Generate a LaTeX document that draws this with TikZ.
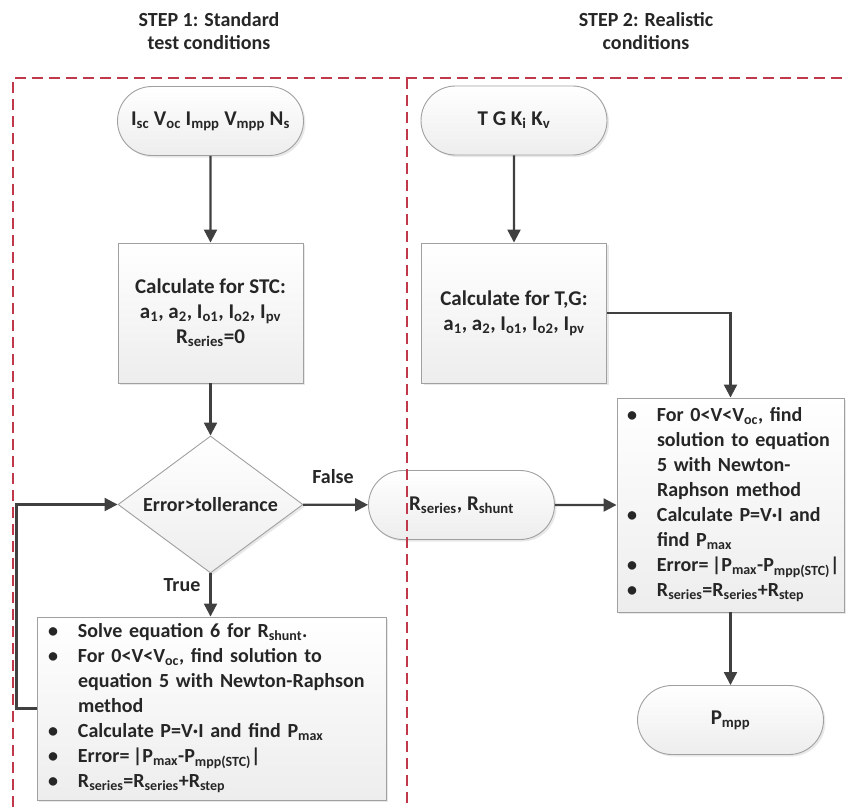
\documentclass[tikz,border=0pt]{standalone}
\usepackage{fontspec}
\setmainfont{Carlito}
\usetikzlibrary{shapes.misc,shapes.geometric,arrows.meta,shadows}
\definecolor{framered}{HTML}{C0394A}
\definecolor{linegray}{HTML}{404040}
\definecolor{bordergray}{HTML}{A0A0A0}
\definecolor{txt}{HTML}{262626}
\newcommand{\sbs}[1]{\textsubscript{#1}}
\newcommand{\bitem}[1]{\mbox{\makebox[30pt][l]{•}#1}}
\newcommand{\bcont}[1]{\mbox{\hspace*{30pt}#1}}
\begin{document}
\begin{tikzpicture}[x=1pt,y=-1pt,
  every node/.style={font=\bfseries\fontsize{20}{25}\selectfont, text=txt},
  bigtext/.style={font=\bfseries\fontsize{21}{25}\selectfont},
  shapebase/.style={draw=bordergray, line width=0.9pt, top color=white, bottom color=gray!14,
    drop shadow={shadow xshift=2pt, shadow yshift=-2pt, opacity=0.3, fill=gray!60}},
  term/.style={shapebase, bigtext, rounded rectangle, minimum width=186pt, minimum height=69pt, inner sep=0pt},
  procbox/.style={shapebase, bigtext, rectangle, minimum width=185pt, minimum height=140pt, align=center, inner sep=0pt},
  listbox/.style={shapebase, rectangle, align=left, inner ysep=0pt},
  decision/.style={shapebase, diamond, minimum width=185pt, minimum height=137pt, inner sep=0pt, aspect=1.35},
  flow/.style={draw=linegray, line width=2.2pt, -{Triangle[length=13pt,width=13pt]}},
  regionline/.style={draw=framered, line width=1.3pt, dash pattern=on 11pt off 6pt},
  lbl/.style={font=\bfseries\fontsize{20}{23}\selectfont}
]
\useasboundingbox (0,0) rectangle (847,807);

\node[lbl, align=center] (h1) at (209,31.5) {STEP 1: Standard\\test conditions};
\node[lbl, align=center] (h2) at (646,31.5) {STEP 2: Realistic\\conditions};

\node[term] (t1) at (210.5,121) {I\sbs{sc} V\sbs{oc} I\sbs{mpp} V\sbs{mpp} N\sbs{s}};
\node[term] (t2) at (514,120.5) {T G K\sbs{i} K\sbs{v}};
\node[procbox] (b1) at (210.5,313) {Calculate for STC:\\a\sbs{1}, a\sbs{2}, I\sbs{o1}, I\sbs{o2}, I\sbs{pv}\\R\sbs{series}=0};
\node[procbox] (b2) at (514,313) {Calculate for T,G:\\a\sbs{1}, a\sbs{2}, I\sbs{o1}, I\sbs{o2}, I\sbs{pv}};
\node[decision] (d) at (210.5,504.5) {Error>tollerance};
\node[term] (r) at (461.5,505) {R\sbs{series}, R\sbs{shunt}};
\node[listbox, minimum width=227pt, minimum height=214pt, text width=207pt, inner xsep=10pt] (b3) at (730.5,505) {%
\bitem{For 0<V<V\sbs{oc}, find}\\
\bcont{solution to equation}\\
\bcont{5 with Newton-}\\
\bcont{Raphson method}\\
\bitem{Calculate P=V·I and}\\
\bcont{find P\sbs{max}}\\
\bitem{Error=\,|P\sbs{max}-P\sbs{mpp(STC)}|}\\
\bitem{R\sbs{series}=R\sbs{series}+R\sbs{step}}};
\node[listbox, minimum width=349pt, minimum height=183pt, text width=327pt, inner xsep=11pt] (b4) at (211.5,708.5) {%
\bitem{Solve equation 6 for R\sbs{shunt}.}\\
\bitem{For 0<V<V\sbs{oc}, find solution to}\\
\bcont{equation 5 with Newton-Raphson}\\
\bcont{method}\\
\bitem{Calculate P=V·I and find P\sbs{max}}\\
\bitem{Error=\,|P\sbs{max}-P\sbs{mpp(STC)}|}\\
\bitem{R\sbs{series}=R\sbs{series}+R\sbs{step}}};
\node[term] (p) at (730.5,720) {P\sbs{mpp}};

\node[lbl] (fl) at (333,477) {False};
\node[lbl] (tl) at (182,585) {True};

\draw[flow] (t1) -- (b1);
\draw[flow] (t2) -- (b2);
\draw[flow] (b1) -- (d);
\draw[flow] (d) -- (r);
\draw[flow] (d.south) -- (d.south |- b4.north);
\draw[flow] (b4.west) -- ++(-20,0) |- (d.west);
\draw[flow] (b2.east) -| (b3.north);
\draw[flow] (r) -- (b3);
\draw[flow] (b3) -- (p);

\draw[regionline] (13,807) -- (13,78) -- (847,78);
\draw[regionline] (407,78) -- (407,807);
\end{tikzpicture}
\end{document}
